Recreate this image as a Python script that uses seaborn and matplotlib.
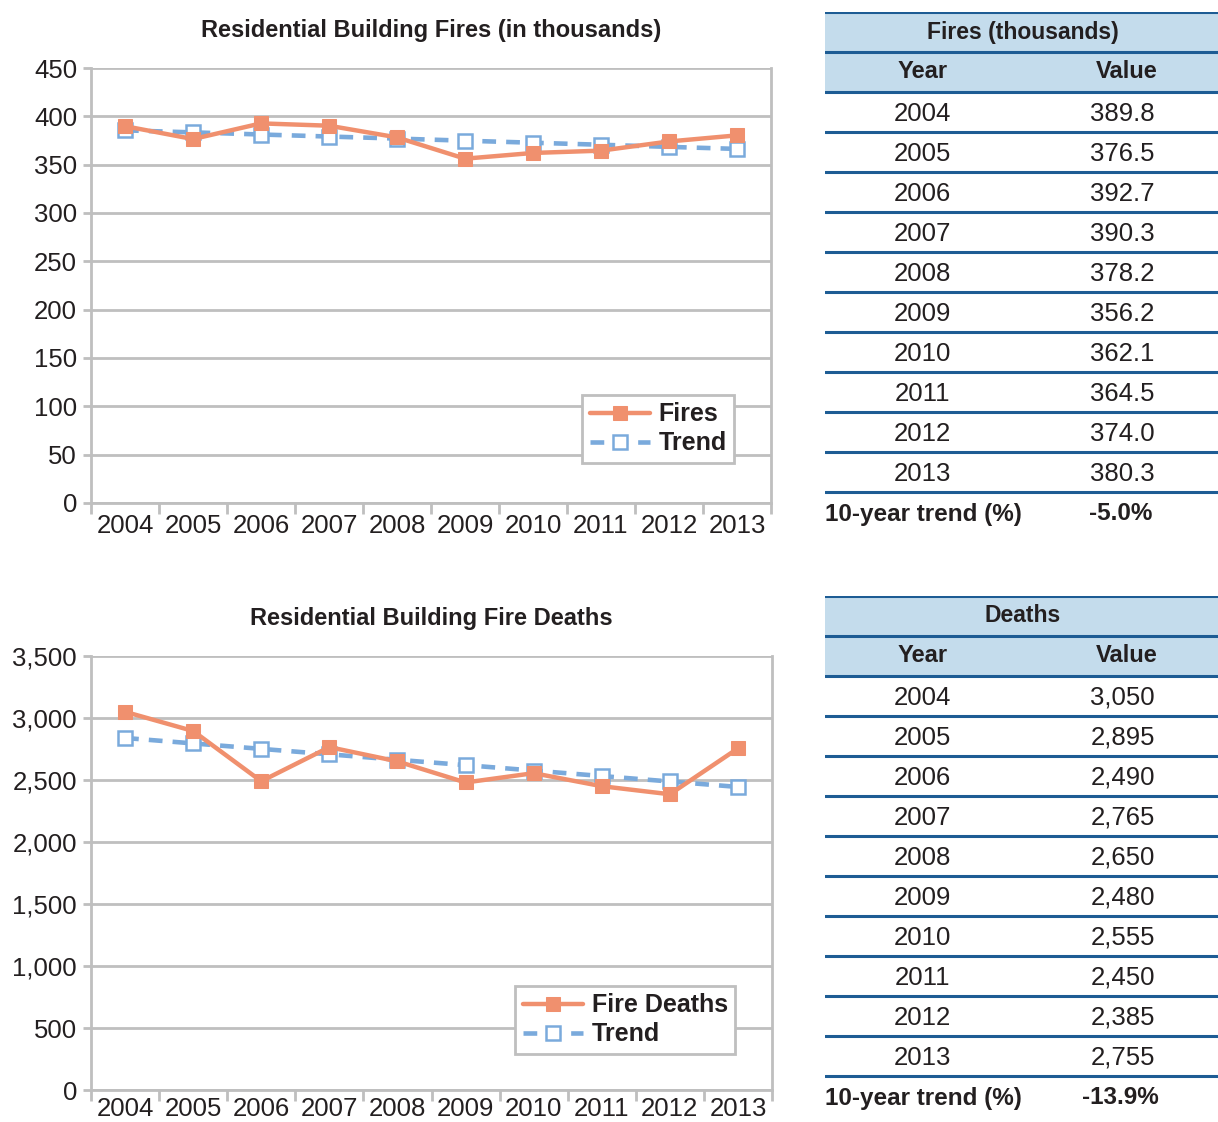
import numpy as np
import pandas as pd
import matplotlib
matplotlib.use("Agg")
import matplotlib.pyplot as plt
import seaborn as sns
from matplotlib.ticker import FuncFormatter, FixedLocator

# Data
years = ["2004", "2005", "2006", "2007", "2008", "2009", "2010", "2011", "2012", "2013"]
fires = [389.8, 376.5, 392.7, 390.3, 378.2, 356.2, 362.1, 364.5, 374.0, 380.3]
fires_trend = [385.5, 383.4, 381.2, 379.1, 377.0, 374.8, 372.7, 370.6, 368.4, 366.3]
fires_table = ["389.8", "376.5", "392.7", "390.3", "378.2", "356.2", "362.1", "364.5", "374.0", "380.3"]
fires_pct = "-5.0%"

deaths = [3050, 2895, 2490, 2765, 2650, 2480, 2555, 2450, 2385, 2755]
deaths_trend = [2839, 2795, 2751, 2707, 2663, 2620, 2576, 2532, 2488, 2444]
deaths_table = ["3,050", "2,895", "2,490", "2,765", "2,650", "2,480", "2,555", "2,450", "2,385", "2,755"]
deaths_pct = "-13.9%"

sns.set_style("white")
plt.rcParams['font.family'] = ['Liberation Sans', 'DejaVu Sans']

SALMON = "#f0906e"
BLUE = "#7aaadc"
GRID = "#bfbfbf"
TEXT = "#231f20"
HEAD_BG = "#c4dcec"
RULE = "#1d5c94"
FS = 18.5

W, H = 1218, 1122
fig = plt.figure(figsize=(W / 100, H / 100), dpi=100)


def px_axes(left, top, right, bottom):
    return fig.add_axes([left / W, 1 - bottom / H, (right - left) / W, (bottom - top) / H])


def draw_chart(ax, values, trend, title, label, ymax, step, comma, leg_anchor, xpad):
    df = pd.DataFrame({"Year": years, "Value": values, "Trend": trend})
    sns.lineplot(data=df, x="Year", y="Trend", ax=ax, color=BLUE, linewidth=3.3,
                 linestyle=(0, (3, 2.2)), marker="s", markersize=10,
                 markerfacecolor="white", markeredgecolor=BLUE, markeredgewidth=1.8,
                 label="Trend", zorder=3)
    sns.lineplot(data=df, x="Year", y="Value", ax=ax, color=SALMON, linewidth=3.2,
                 marker="s", markersize=9.5, markerfacecolor=SALMON,
                 markeredgecolor=SALMON, label=label, zorder=4)
    ax.set_xlim(-0.5, len(years) - 0.5)
    ax.set_ylim(0, ymax)
    ax.set_yticks(np.arange(0, ymax + 1, step))
    if comma:
        ax.yaxis.set_major_formatter(FuncFormatter(lambda v, p: f"{int(v):,}"))
    ax.xaxis.set_minor_locator(FixedLocator(np.arange(-0.5, len(years), 1.0)))
    ax.grid(axis="y", color=GRID, linewidth=2)
    ax.grid(axis="x", visible=False)
    for s in ["left", "right", "bottom"]:
        ax.spines[s].set_color(GRID)
        ax.spines[s].set_linewidth(2)
    ax.spines["top"].set_visible(False)
    ax.tick_params(axis="y", length=6, width=2, color=GRID, pad=4,
                   labelsize=FS, labelcolor=TEXT, left=True)
    ax.tick_params(axis="x", which="major", length=0, pad=xpad,
                   labelsize=FS, labelcolor=TEXT)
    ax.tick_params(axis="x", which="minor", length=8, width=2, color=GRID, bottom=True)
    ax.set_xlabel("")
    ax.set_ylabel("")
    ax.set_title(title, fontsize=17, fontweight="bold", color=TEXT, pad=22)
    h, l = ax.get_legend_handles_labels()
    leg = ax.legend(h[::-1], l[::-1], loc="lower right", bbox_to_anchor=leg_anchor,
                    borderaxespad=0, frameon=True, fancybox=False, edgecolor=GRID,
                    framealpha=1, handlelength=2.4, handletextpad=0.35, borderpad=0.3,
                    labelspacing=0.2, prop={"size": 18, "weight": "bold"})
    leg.get_frame().set_linewidth(2)
    for t in leg.get_texts():
        t.set_color(TEXT)


def draw_table(ax, header, cells, pct):
    n = len(years)
    ax.set_xlim(0, 1)
    ax.set_ylim(n + 3, 0)
    ax.axis("off")
    ax.axhspan(0, 2, color=HEAD_BG, zorder=0)
    for k in range(n + 3):
        ax.axhline(k, color=RULE, linewidth=2.2, zorder=2)
    ax.text(0.504, 0.5, header, ha="center", va="center", fontsize=16.5,
            fontweight="bold", color=TEXT)
    ax.text(0.249, 1.5, "Year", ha="center", va="center", fontsize=17,
            fontweight="bold", color=TEXT)
    ax.text(0.767, 1.5, "Value", ha="center", va="center", fontsize=17,
            fontweight="bold", color=TEXT)
    for i, (y, v) in enumerate(zip(years, cells)):
        ax.text(0.249, i + 2.55, y, ha="center", va="center", fontsize=FS, color=TEXT)
        ax.text(0.757, i + 2.55, v, ha="center", va="center", fontsize=FS, color=TEXT)
    ax.text(0.0, n + 2.55, "10-year trend (%)", ha="left", va="center", fontsize=17.5,
            fontweight="bold", color=TEXT)
    ax.text(0.752, n + 2.55, pct, ha="center", va="center", fontsize=17.5,
            fontweight="bold", color=TEXT)


ax1 = px_axes(91, 68, 771, 503)
draw_chart(ax1, fires, fires_trend, "Residential Building Fires (in thousands)",
           "Fires", 450, 50, False, (0.946, 0.092), 8)

ax2 = px_axes(91, 656, 772, 1090)
draw_chart(ax2, deaths, deaths_trend, "Residential Building Fire Deaths",
           "Fire Deaths", 3500, 500, True, (0.946, 0.083), 5)

t1 = px_axes(825, 12, 1218, 532)
draw_table(t1, "Fires (thousands)", fires_table, fires_pct)

t2 = px_axes(825, 596, 1218, 1116)
draw_table(t2, "Deaths", deaths_table, deaths_pct)

fig.savefig("out.png", dpi=100)
